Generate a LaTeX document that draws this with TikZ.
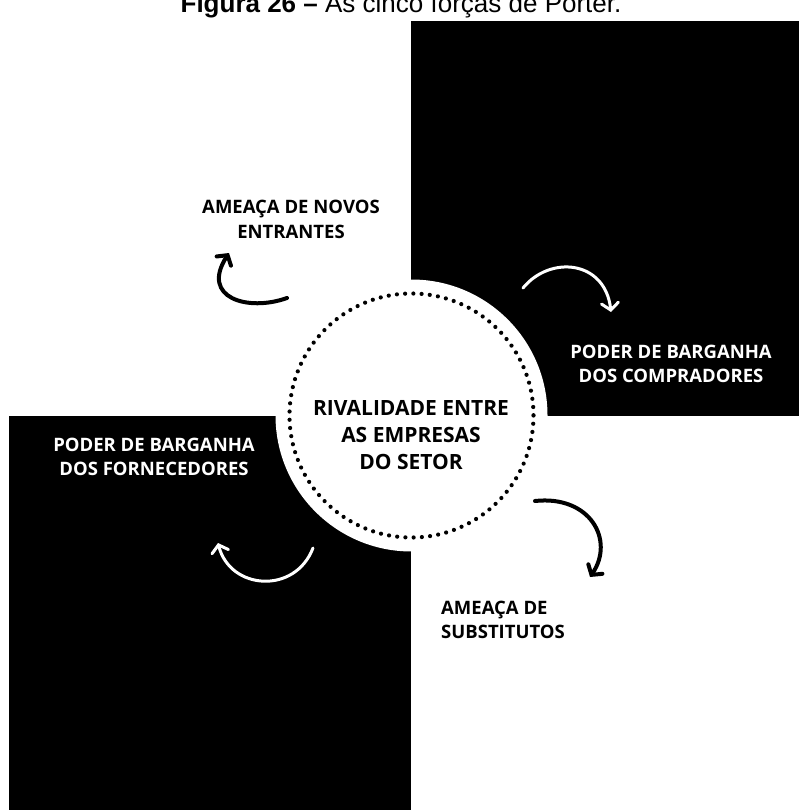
\documentclass[tikz,border=0pt]{standalone}
\usepackage{fontspec}
\setmainfont{Open Sans}
\newfontfamily\captionfont{Liberation Sans}
\usetikzlibrary{arrows.meta,positioning}

\begin{document}
\begin{tikzpicture}[
x=1pt,y=-1pt,
force/.style={
  font=\fontsize{18.5}{24.3}\selectfont\bfseries,
  align=center,
  anchor=base,
  inner sep=0pt
},
rival/.style={
  font=\fontsize{21}{26.8}\selectfont\bfseries,
  align=center,
  anchor=base,
  inner sep=0pt
},
turn/.style={
  line width=4pt,
  line cap=round,
  -{Straight Barb[length=7pt,width=17pt,line cap=round]}
},
turnw/.style={
  turn,
  white,
  line width=3pt
},
dots/.style={
  line width=4.2pt,
  line cap=round,
  dash pattern=on 0pt off 8.24pt
}
]
\useasboundingbox (0,0) rectangle (799,810);
\clip (0,0) rectangle (799,810);

% title, cut by the top edge
\node[font=\captionfont\fontsize{26}{30}\selectfont,anchor=base,inner sep=0pt]
  (title) at (401,13) {\textbf{Figura 26 –} As cinco forças de Porter.};

% the two black quarters and the white disc
\fill[black] (411,21) rectangle (799,415.5);
\fill[black] (9,415.5) rectangle (411,810);
\coordinate (o) at (411.5,415.5);
\fill[white] (o) circle (136);
\draw[dots] (o) circle (122);

% base = baseline of the last line
\node[rival] (rivalidade) at (411,469.5)
  {RIVALIDADE ENTRE\\AS EMPRESAS\\DO SETOR};

\node[force] (novos) at (291,238)
  {AMEAÇA DE NOVOS\\ENTRANTES};
\node[force,text=white] (compradores) at (671,382.5)
  {PODER DE BARGANHA\\DOS COMPRADORES};
\node[force,text=white] (fornecedores) at (154,475.5)
  {PODER DE BARGANHA\\DOS FORNECEDORES};
\node[force,align=left,anchor=base west] (substitutos) at (441,638.5)
  {AMEAÇA DE\\SUBSTITUTOS};

% curved arrows round the disc
\coordinate (t1) at (287,298);
\coordinate (h1) at (229,253);
\coordinate (t2) at (523,288);
\coordinate (h2) at (611,312);
\coordinate (t3) at (535,501);
\coordinate (h3) at (590,577);
\coordinate (t4) at (313,548);
\coordinate (h4) at (218,543);

\draw[turn] (t1) .. controls (248,312) and (200,298) .. (h1);
\draw[turnw] (t2) .. controls (550,255) and (605,260) .. (h2);
\draw[turn] (t3) .. controls (590,495) and (615,540) .. (h3);
\draw[turnw] (t4) .. controls (295,595) and (230,590) .. (h4);
\end{tikzpicture}
\end{document}
